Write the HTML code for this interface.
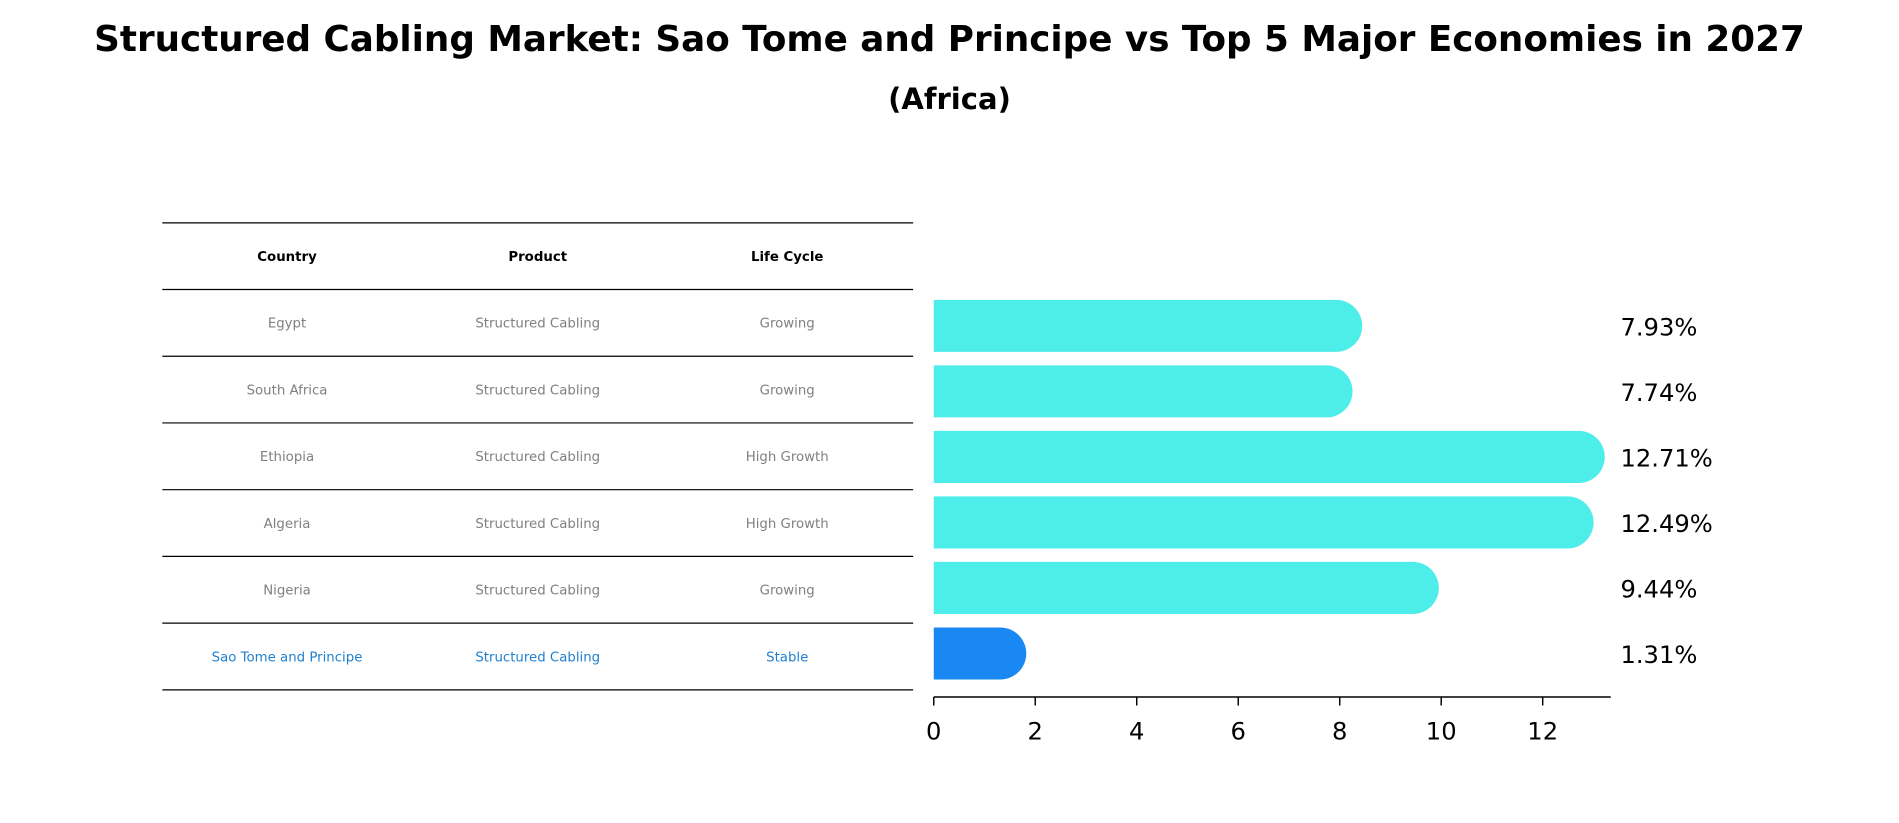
<!DOCTYPE html>
<html><head><meta charset="utf-8"><style>
html,body{margin:0;padding:0;background:#fff;}
svg{display:block;font-family:"DejaVu Sans","Liberation Sans",sans-serif;}
</style></head><body>
<svg id="chart" width="1899" height="823" viewBox="0 0 1568 679.5" xmlns="http://www.w3.org/2000/svg">
<text x="784" y="42" text-anchor="middle" font-size="29.5" font-weight="bold">Structured Cabling Market: Sao Tome and Principe vs Top 5 Major Economies in 2027</text>
<text x="784" y="90" text-anchor="middle" font-size="24" font-weight="bold">(Africa)</text>
<g id="table"></g>
<g id="bars"></g>
</svg>
<script>
const countries = ["Egypt","South Africa","Ethiopia","Algeria","Nigeria","Sao Tome and Principe"];
const products = ["Structured Cabling","Structured Cabling","Structured Cabling","Structured Cabling","Structured Cabling","Structured Cabling"];
const lifeCycles = ["Growing","Growing","High Growth","High Growth","Growing","Stable"];
const values = [7.93,7.74,12.71,12.49,9.44,1.31];
const valueLabels = ["7.93%","7.74%","12.71%","12.49%","9.44%","1.31%"];
const ticks = [0,2,4,6,8,10,12];

const NS="http://www.w3.org/2000/svg";
function mk(tag,attrs,parent,text){const e=document.createElementNS(NS,tag);for(const k in attrs)e.setAttribute(k,attrs[k]);if(text!==undefined)e.textContent=text;parent.appendChild(e);return e;}
const table=document.getElementById('table');
const bars=document.getElementById('bars');
// table
const tx0=134,tx1=754,rowTop=184,headerH=55,rowH=55.1;
const colX=[237,444,650];
const lineYs=[rowTop,rowTop+headerH];
for(let i=1;i<=countries.length;i++)lineYs.push(rowTop+headerH+i*rowH);
lineYs.forEach(y=>{const l=mk('line',{x1:tx0,x2:tx1,y1:y,y2:y,stroke:'#000','stroke-width':1},table);

});
["Country","Product","Life Cycle"].forEach((h,j)=>{const t=mk('text',{x:colX[j],y:rowTop+headerH/2+4,'text-anchor':'middle','font-size':11,'font-weight':'bold'},table,h);

});
countries.forEach((c,i)=>{
 const y=rowTop+headerH+i*rowH+rowH/2+4;
 const col=i===countries.length-1?'#1f7fd0':'#808080';
 [c,products[i],lifeCycles[i]].forEach((v,j)=>{const t=mk('text',{x:colX[j],y:y,'text-anchor':'middle','font-size':11,fill:col},table,v);
 
 });
});
// bars
const x0=771,ppu=41.9,axisY=575.5;
const xs=v=>x0+v*ppu;
const bandTop=242,band=54.1,bh=43;
values.forEach((v,i)=>{
 const cy=bandTop+band*i+band/2;
 const xe=xs(v),r=bh/2;
 const color=i===values.length-1?'#1a88f2':'#4deeea';
 const p=mk('path',{d:`M${x0},${cy-r} L${xe},${cy-r} A${r},${r} 0 0 1 ${xe},${cy+r} L${x0},${cy+r} Z`,fill:color},bars);
 
 
 const t=mk('text',{x:1338,y:cy+8,'font-size':20},bars,valueLabels[i]);
 
 
});
const ax=mk('line',{x1:x0,x2:1330,y1:axisY,y2:axisY,stroke:'#000','stroke-width':1.3},bars);


ticks.forEach(v=>{
 const tl=mk('line',{x1:xs(v),x2:xs(v),y1:axisY,y2:axisY+7,stroke:'#000','stroke-width':1.2},bars);
 
 
 const t=mk('text',{x:xs(v),y:axisY+35,'text-anchor':'middle','font-size':20},bars,String(v));
 
 
});
</script>
</body></html>
